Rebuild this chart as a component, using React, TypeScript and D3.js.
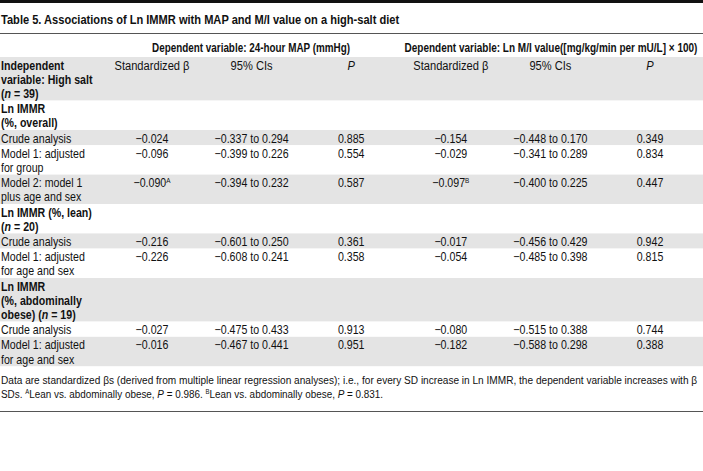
import React, { useLayoutEffect, useRef, useState } from "react";
import * as d3 from "d3";

const title = "Table 5. Associations of Ln IMMR with MAP and M/I value on a high-salt diet";
const groupHeaders = [
  "Dependent variable: 24-hour MAP (mmHg)",
  "Dependent variable: Ln M/I value([mg/kg/min per mU/L] × 100)",
];
const columnHeaders = ["Standardized β", "95% CIs", "*P*", "Standardized β", "95% CIs", "*P*"];
const headerLabel = ["Independent", "variable: High salt", "(*n* = 39)"];

const rowLabels: string[][] = [
  ["Ln IMMR", "(%, overall)"],
  ["Crude analysis"],
  ["Model 1: adjusted", "for group"],
  ["Model 2: model 1", "plus age and sex"],
  ["Ln IMMR (%, lean)", "(*n* = 20)"],
  ["Crude analysis"],
  ["Model 1: adjusted", "for age and sex"],
  ["Ln IMMR", "(%, abdominally", "obese) (*n* = 19)"],
  ["Crude analysis"],
  ["Model 1: adjusted", "for age and sex"],
];
const rowIsGroup = [true, false, false, false, true, false, false, true, false, false];

const mapBeta = ["", "−0.024", "−0.096", "−0.090^A", "", "−0.216", "−0.226", "", "−0.027", "−0.016"];
const mapCI = ["", "−0.337 to 0.294", "−0.399 to 0.226", "−0.394 to 0.232", "", "−0.601 to 0.250", "−0.608 to 0.241", "", "−0.475 to 0.433", "−0.467 to 0.441"];
const mapP = ["", "0.885", "0.554", "0.587", "", "0.361", "0.358", "", "0.913", "0.951"];
const miBeta = ["", "−0.154", "−0.029", "−0.097^B", "", "−0.017", "−0.054", "", "−0.080", "−0.182"];
const miCI = ["", "−0.448 to 0.170", "−0.341 to 0.289", "−0.400 to 0.225", "", "−0.456 to 0.429", "−0.485 to 0.398", "", "−0.515 to 0.388", "−0.588 to 0.298"];
const miP = ["", "0.349", "0.834", "0.447", "", "0.942", "0.815", "", "0.744", "0.388"];

const footnoteLines = [
  "Data are standardized βs (derived from multiple linear regression analyses); i.e., for every SD increase in Ln IMMR, the dependent variable increases with β",
  "SDs. ^A^Lean vs. abdominally obese, *P* = 0.986. ^B^Lean vs. abdominally obese, *P* = 0.831.",
];

const W = 703;
const H = 471;
const FONT = "'Liberation Sans', Arial, sans-serif";
const GRAY = "#e4e4e4";
const LINE_H = 14.2;
const PAD = 1;
const SX = 0.85;

function renderRich(text: string, fontSize: number) {
  const parts: React.ReactNode[] = [];
  const re = /(\*[^*]+\*|\^[^^]+\^|\^[A-Z])/g;
  let last = 0;
  let m: RegExpExecArray | null;
  let k = 0;
  let superActive = false;
  while ((m = re.exec(text)) !== null) {
    if (m.index > last) {
      parts.push(
        <tspan key={k++} dy={superActive ? fontSize * 0.35 : undefined}>{text.slice(last, m.index)}</tspan>
      );
      superActive = false;
    }
    const tok = m[0];
    if (tok.startsWith("*")) {
      parts.push(
        <tspan key={k++} fontStyle="italic" dy={superActive ? fontSize * 0.35 : undefined}>{tok.slice(1, -1)}</tspan>
      );
      superActive = false;
    } else {
      const inner = tok.endsWith("^") && tok.length > 2 ? tok.slice(1, -1) : tok.slice(1);
      parts.push(
        <tspan key={k++} fontSize={fontSize * 0.6} dy={-fontSize * 0.35}>{inner}</tspan>
      );
      superActive = true;
    }
    last = m.index + tok.length;
  }
  if (last < text.length) {
    parts.push(<tspan key={k++} dy={superActive ? fontSize * 0.35 : undefined}>{text.slice(last)}</tspan>);
  }
  return parts;
}

type TProps = {
  x: number;
  y: number;
  size: number;
  text: string;
  bold?: boolean;
  anchor?: "start" | "middle" | "end";
  sx?: number;
  len?: number;
};

function T({ x, y, size, text, bold, anchor = "start", sx = SX, len }: TProps) {
  const ref = useRef<SVGTextElement>(null);
  const [fit, setFit] = useState<number | null>(null);
  useLayoutEffect(() => {
    if (len !== undefined && ref.current) {
      const w = ref.current.getComputedTextLength();
      if (w > 0) setFit(len / w);
    }
  }, [len, text, size]);
  const scale = len !== undefined ? (fit ?? sx) : sx;
  return (
    <text
      ref={ref}
      transform={`translate(${x},${y}) scale(${scale},1)`}
      fontSize={size}
      fontWeight={bold ? "bold" : "normal"}
      textAnchor={anchor}
      fill="#111"
    >
      {renderRich(text, size)}
    </text>
  );
}

export default function App() {
  const colX = d3.scaleLinear().domain([0, 5]).range([152, 650]);
  const groupX = [251, 551];
  const groupLen = [198, 293];

  const bandTop0 = 57;
  const allLabels = [headerLabel, ...rowLabels];
  const heights = allLabels.map((l) => l.length * LINE_H + PAD);
  const tops: number[] = [];
  let acc = bandTop0;
  heights.forEach((h) => {
    tops.push(acc);
    acc += h;
  });
  const tableBottom = acc;

  const valueCols = [mapBeta, mapCI, mapP, miBeta, miCI, miP];
  const bodySize = 12.5;
  const footLen = [696, 382];

  return (
    <svg
      width={W}
      height={H}
      style={{ position: "absolute", left: 0, top: 0, background: "#fff" }}
      fontFamily={FONT}
    >
      <rect x={0} y={0} width={W} height={H} fill="#fff" />
      <rect x={0} y={0} width={W} height={3} fill="#111" />
      <T x={1} y={24} size={13.5} bold text={title} len={398} />
      <line x1={0} x2={W} y1={33.5} y2={33.5} stroke="#555" strokeWidth={1} />
      {groupHeaders.map((g, i) => (
        <T key={g} x={groupX[i]} y={52} size={12} bold anchor="middle" text={g} len={groupLen[i]} />
      ))}
      {allLabels.map((_, i) => (
        <rect key={"b" + i} x={0} y={tops[i]} width={W} height={heights[i]} fill={i % 2 === 0 ? GRAY : "#fff"} />
      ))}
      {headerLabel.map((ln, j) => (
        <T key={"h" + j} x={1} y={tops[0] + 12.5 + j * LINE_H} size={bodySize} bold text={ln} />
      ))}
      {columnHeaders.map((c, i) => (
        <T key={"c" + i} x={colX(i)} y={tops[0] + 12.5} size={bodySize} anchor="middle" text={c} sx={0.89} />
      ))}
      {rowLabels.map((lines, r) => (
        <g key={"r" + r}>
          {lines.map((ln, j) => (
            <T key={j} x={1} y={tops[r + 1] + 12.5 + j * LINE_H} size={bodySize} bold={rowIsGroup[r]} text={ln} />
          ))}
          {valueCols.map((col, c) =>
            col[r] ? (
              <T key={"v" + c} x={colX(c)} y={tops[r + 1] + 12.5} size={bodySize} anchor="middle" text={col[r]} />
            ) : null
          )}
        </g>
      ))}
      {footnoteLines.map((ln, j) => (
        <T key={"f" + j} x={1} y={tableBottom + 18 + j * 13.5} size={11.5} text={ln} len={footLen[j]} />
      ))}
      <line x1={0} x2={W} y1={411.5} y2={411.5} stroke="#555" strokeWidth={1} />
    </svg>
  );
}
